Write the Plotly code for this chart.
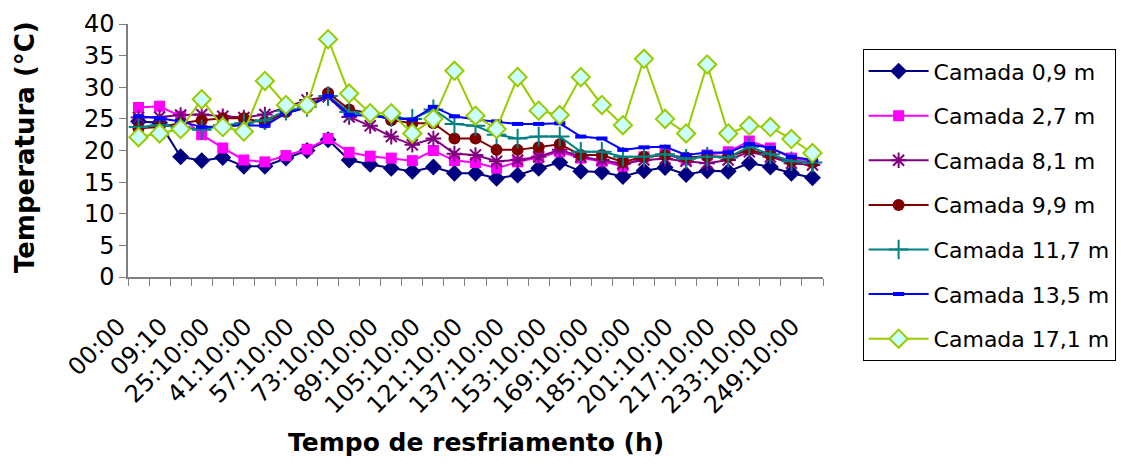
import plotly.graph_objects as go

categories = ["00:00", "01:10", "09:10", "17:10:00", "25:10:00", "33:10:00", "41:10:00",
              "49:10:00", "57:10:00", "65:10:00", "73:10:00", "81:10:00", "89:10:00",
              "97:10:00", "105:10:00", "113:10:00", "121:10:00", "129:10:00", "137:10:00",
              "145:10:00", "153:10:00", "161:10:00", "169:10:00", "177:10:00", "185:10:00",
              "193:10:00", "201:10:00", "209:10:00", "217:10:00", "225:10:00", "233:10:00",
              "241:10:00", "249:10:00"]

camada_0_9 = [24.6, 24.4, 19.0, 18.4, 18.9, 17.5, 17.5, 18.8, 20.0, 21.7, 18.5, 17.8, 17.2,
              16.7, 17.4, 16.4, 16.4, 15.6, 16.1, 17.2, 18.1, 16.7, 16.6, 15.9, 16.8, 17.3,
              16.2, 16.8, 16.7, 18.0, 17.4, 16.4, 15.7]
camada_2_7 = [26.8, 27.0, 25.4, 22.5, 20.4, 18.5, 18.2, 19.2, 20.2, 21.9, 19.7, 19.1, 18.8,
              18.4, 20.0, 18.4, 18.1, 17.2, 18.2, 18.9, 19.8, 18.8, 18.3, 17.5, 19.0, 19.4,
              18.5, 19.3, 19.8, 21.5, 20.4, 18.8, 18.3]
camada_8_1 = [25.2, 25.3, 25.6, 25.7, 25.4, 25.2, 25.7, 26.9, 28.0, 28.5, 25.3, 23.9, 22.2,
              20.9, 21.9, 19.5, 19.3, 18.3, 18.5, 19.0, 20.1, 19.0, 18.5, 17.9, 18.5, 18.7,
              18.3, 18.0, 18.5, 19.8, 19.0, 18.0, 17.7]
camada_9_9 = [23.5, 23.7, 24.3, 24.8, 25.1, 25.1, 24.4, 26.1, 26.8, 29.1, 26.5, 25.9, 24.8,
              24.3, 24.3, 21.9, 21.9, 20.1, 20.1, 20.5, 21.0, 19.3, 19.3, 18.2, 19.0, 19.3,
              18.9, 19.1, 19.0, 20.1, 19.3, 18.3, 18.1]
camada_11_7 = [23.7, 24.0, 23.7, 23.3, 24.0, 24.3, 24.8, 26.3, 26.9, 28.6, 26.1, 25.6, 25.3,
               25.0, 26.5, 24.2, 23.9, 22.5, 21.9, 22.2, 22.2, 19.8, 19.8, 19.0, 19.0, 19.4,
               18.7, 19.0, 18.9, 20.6, 19.4, 18.3, 18.1]
camada_13_5 = [25.4, 25.1, 24.6, 23.7, 23.8, 24.0, 23.9, 25.9, 26.8, 28.6, 25.6, 25.5, 25.1,
               24.9, 26.9, 25.4, 24.9, 24.6, 24.2, 24.2, 24.3, 22.2, 21.9, 20.1, 20.5, 20.6,
               19.3, 19.7, 19.7, 21.0, 20.4, 19.0, 18.5]
camada_17_1 = [22.1, 22.7, 23.4, 28.1, 23.7, 23.0, 31.0, 27.2, 27.2, 37.6, 29.0, 25.9, 25.9,
               22.7, 25.0, 32.6, 25.5, 23.4, 31.6, 26.3, 25.6, 31.6, 27.2, 24.0, 34.5, 25.0,
               22.7, 33.6, 22.7, 23.9, 23.7, 21.8, 19.6]

series_names = ["Camada 0,9 m", "Camada 2,7 m", "Camada 8,1 m", "Camada 9,9 m",
                "Camada 11,7 m", "Camada 13,5 m", "Camada 17,1 m"]
series_values = [camada_0_9, camada_2_7, camada_8_1, camada_9_9,
                 camada_11_7, camada_13_5, camada_17_1]

styles = [
    dict(color="#000080", marker=dict(symbol="diamond", size=13, color="#000080")),
    dict(color="#FF00FF", marker=dict(symbol="square", size=11, color="#FF00FF")),
    dict(color="#800080", marker=dict(symbol="asterisk-open", size=13,
                                      line=dict(color="#800080", width=2))),
    dict(color="#800000", marker=dict(symbol="circle", size=12, color="#800000")),
    dict(color="#008080", marker=dict(symbol="cross-thin-open", size=14,
                                      line=dict(color="#008080", width=2))),
    dict(color="#0000FF", marker=dict(symbol="line-ew-open", size=8,
                                      line=dict(color="#0000FF", width=4))),
    dict(color="#99CC00", marker=dict(symbol="diamond", size=14, color="#CCFFFF",
                                      line=dict(color="#99CC00", width=2))),
]

fig = go.Figure()
for i, (name, vals, st) in enumerate(zip(series_names, series_values, styles)):
    fig.add_trace(go.Scatter(
        x=categories, y=vals, name=name, mode="lines+markers",
        line=dict(color=st["color"], width=2),
        marker=st["marker"], legendgroup=f"g{i}",
    ))

ticktext = [c if i % 2 == 0 else "" for i, c in enumerate(categories)]

font_family = "DejaVu Sans"
fig.update_layout(
    width=1121, height=466,
    margin=dict(l=128, r=298, t=24, b=189, autoexpand=False),
    paper_bgcolor="white", plot_bgcolor="white",
    font=dict(family=font_family, color="black", size=22),
    showlegend=True,
    legend=dict(
        x=1.057, y=0.90, xanchor="left", yanchor="top",
        bordercolor="black", borderwidth=1, bgcolor="white",
        font=dict(family=font_family, size=22, color="black"),
        tracegroupgap=13, itemwidth=60, maxheight=440,
    ),
    xaxis=dict(
        type="category", tickmode="array", tickvals=categories, ticktext=ticktext,
        tickangle=-45, tickson="boundaries", ticks="outside", ticklen=7,
        tickcolor="#808080", showline=True, linecolor="#808080", linewidth=1.5,
        showgrid=False, zeroline=False, range=[-0.5, 32.5], automargin=False,
        ticklabelshift=-20, ticklabelstandoff=24,
        tickfont=dict(family=font_family, size=24, color="black"),
    ),
    yaxis=dict(
        range=[0, 40], tickmode="linear", tick0=0, dtick=5, automargin=False,
        ticks="outside", ticklen=7, tickcolor="#808080",
        showline=True, linecolor="#808080", linewidth=1.5,
        showgrid=False, zeroline=False,
        tickfont=dict(family=font_family, size=24, color="black"),
    ),
    annotations=[
        dict(text="<b>Temperatura (°C)</b>", xref="paper", yref="paper",
             x=-0.148, y=0.514, xanchor="center", yanchor="middle",
             textangle=-90, showarrow=False,
             font=dict(family=font_family, size=26, color="black")),
        dict(text="<b>Tempo de resfriamento (h)</b>", xref="paper", yref="paper",
             x=0.5, y=-0.656, xanchor="center", yanchor="middle",
             showarrow=False,
             font=dict(family=font_family, size=25, color="black")),
    ],
)

fig.write_html("out.html")
